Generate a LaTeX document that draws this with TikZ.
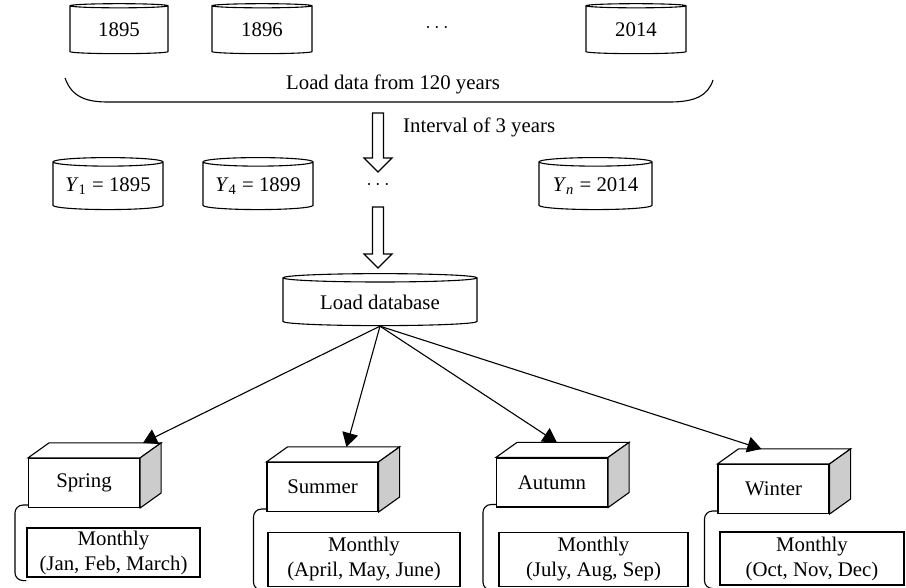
\documentclass[tikz,border=0pt]{standalone}
\usepackage{fontspec}
\setmainfont{Liberation Serif}
\usetikzlibrary{shapes.geometric,arrows.meta,calc}
\tikzset{
    drum/.style={cylinder,shape border rotate=90,draw,aspect=0.1,minimum width=50pt,minimum height=25pt,inner sep=0pt},
    season/.style={rectangle,draw,fill=white,minimum width=55.5pt,minimum height=24.5pt,inner sep=0pt},
    month/.style={rectangle,draw,align=center,minimum height=27pt,inner sep=0pt},
    edge/.style={-{Triangle[length=7pt,width=8pt]}},
    link/.style={rounded corners=4pt},
    hollow/.style={to path={let \p1=(\tikztostart), \p2=(\tikztotarget) in
        (\x1-2.75pt,\y1) -- (\x1-2.75pt,\y2+7pt) -- (\x1-7pt,\y2+7pt) -- (\x2,\y2)
        -- (\x1+7pt,\y2+7pt) -- (\x1+2.75pt,\y2+7pt) -- (\x1+2.75pt,\y1) -- cycle}}
}
\begin{document}
\begin{tikzpicture}[x=0.5pt,y=-0.5pt,line width=0.55pt,font=\fontsize{10.4}{12.5}\selectfont]
\useasboundingbox (0,0) rectangle (906,588);

% Raw data, one drum per year
\node[drum,minimum width=49pt] (y1895) at (119,30) {1895};
\node[drum] (y1896) at (262,30) {1896};
\node (gap1) at (437,28) {$\cdots$};
\node[drum] (y2014) at (636,30) {2014};

% Brace under the years
\draw (65,78) .. controls (72,98) and (88,102) .. (108,102) -- (670,102)
      .. controls (694,102) and (708,96) .. (713,80);
\coordinate (brace) at (378,102);
\node (load) at (393,84) {Load data from 120 years};

% Sampled years
\node[drum,minimum width=55pt,minimum height=26pt] (ya) at (108,186) {\textit{Y}\textsubscript{1} = 1895};
\node[drum,minimum width=55pt,minimum height=26pt] (yb) at (258,186) {\textit{Y}\textsubscript{4} = 1899};
\node (gap2) at (378,185) {$\cdots$};
\node[drum,minimum width=56.5pt,minimum height=26pt] (yn) at (595.5,186) {\textit{Y}\textsubscript{\textit{n}} = 2014};

% Database
\node[drum,aspect=0.07,minimum width=97pt,minimum height=26pt] (db) at (380,302) {Load database};

% Hollow arrows
\coordinate (h1a) at (378,113);
\coordinate (h1b) at (378,172);
\coordinate (h2a) at (378,207);
\coordinate (h2b) at (378,268);
\draw[hollow] (h1a) to (h1b);
\draw[hollow] (h2a) to (h2b);
\node[anchor=west] (step) at (396,127) {Interval of 3 years};

% Seasons as boxes
\foreach \s/\t/\x/\y in {spring/Spring/84/483, summer/Summer/322.5/487,
                         autumn/Autumn/552/482.5, winter/Winter/773.5/489}
    \node[season] (\s) at (\x,\y) {\t};

\foreach \s/\d in {spring/115, summer/80, autumn/61, winter/44} {
    \draw[fill=white] (\s.north west) -- ([shift={(21,-15)}]\s.north west)
        -- ([shift={(21,-15)}]\s.north east) -- (\s.north east) -- cycle;
    \draw[fill=black!20] (\s.north east) -- ([shift={(21,-15)}]\s.north east)
        -- ([shift={(21,-15)}]\s.south east) -- (\s.south east) -- cycle;
    \coordinate (\s-top) at ([shift={(\d,-15)}]\s.north west);
    \draw[edge] (db.south) -- (\s-top);
}

% Months of each season
\node[month,minimum width=86.5pt,minimum height=24.5pt] (spring-m) at (113.5,552.5) {Monthly\\(Jan, Feb, March)};
\node[month,minimum width=96pt] (summer-m) at (364,559.5) {Monthly\\(April, May, June)};
\node[month,minimum width=94.5pt] (autumn-m) at (593.5,559.5) {Monthly\\(July, Aug, Sep)};
\node[month,minimum width=92pt,minimum height=26.5pt] (winter-m) at (812,558.5) {Monthly\\(Oct, Nov, Dec)};

\foreach \s in {spring,summer,autumn,winter}
    \draw[link] ([yshift=1.5pt]\s.south west) -- ++(-13,0) |- ([yshift=-1.5pt]\s-m.south west);
\end{tikzpicture}
\end{document}
